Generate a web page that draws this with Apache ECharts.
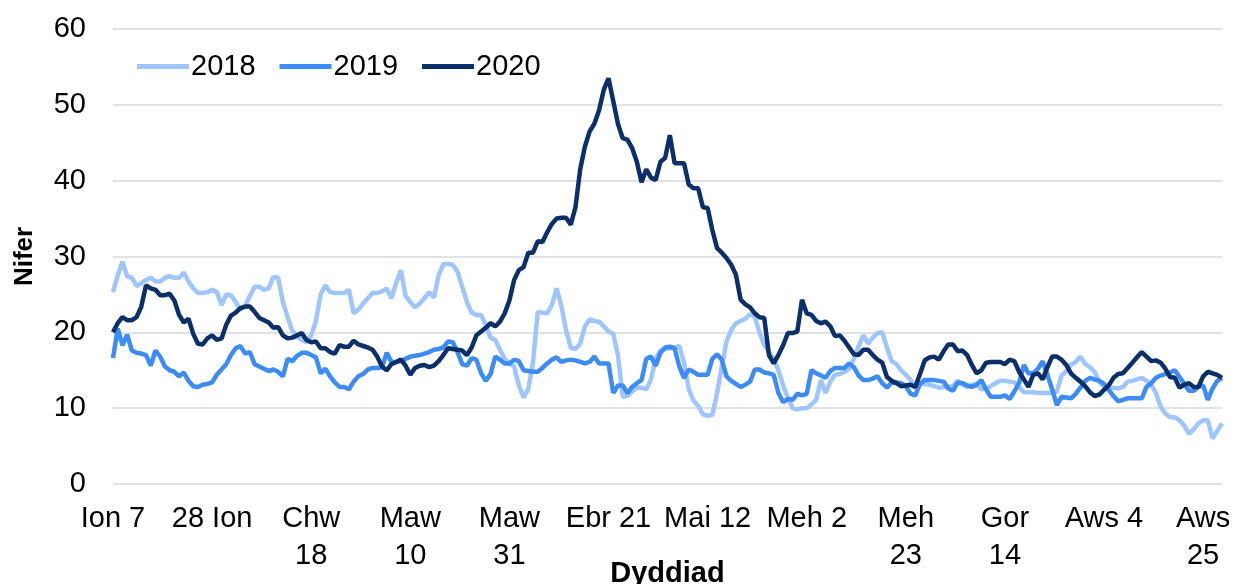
<!DOCTYPE html>
<html>
<head>
<meta charset="utf-8">
<script src="https://cdn.jsdelivr.net/npm/echarts@6/dist/echarts.min.js"></script>
<style>
  html, body { margin: 0; padding: 0; background: #fff; }
  #chart { width: 1236px; height: 584px; }
</style>
</head>
<body>
<div id="chart"></div>
<script>
// Tick labels shown every 21 days starting 7 January
var tickLabels = ['Ion 7', '28 Ion', 'Chw\n18', 'Maw\n10', 'Maw\n31', 'Ebr 21', 'Mai 12', 'Meh 2', 'Meh\n23', 'Gor\n14', 'Aws 4', 'Aws\n25'];
var seriesNames = ['2018', '2019', '2020'];
var yTicks = { min: 0, max: 60, step: 10 };

var s2018 = [
25.3,27.5,29.3,27.4,27.2,26.1,26.5,26.9,27.2,26.7,26.7,27.2,27.4,27.2,27.2,27.9,26.7,25.8,25.2,25.2,
25.3,25.6,25.3,23.6,25.0,24.9,24.0,23.0,23.5,24.8,26.0,26.0,25.6,25.8,27.3,27.2,24.0,22.0,20.2,19.5,
19.0,18.7,19.6,21.5,25.0,26.2,25.3,25.2,25.2,25.2,25.6,22.5,23.0,23.8,24.5,25.2,25.2,25.4,25.8,24.5,
26.5,28.2,24.8,24.0,23.3,23.8,24.5,25.3,24.6,27.5,29.0,29.0,28.9,28.0,26.0,24.0,22.6,22.3,22.3,21.0,
19.3,19.0,17.7,16.5,15.9,15.5,13.0,11.4,12.5,16.0,22.7,22.6,22.5,23.6,25.8,23.5,20.3,18.0,17.8,18.5,
20.8,21.7,21.5,21.4,20.8,20.1,19.8,17.0,11.5,11.6,12.2,12.7,12.7,12.5,13.8,16.5,17.6,17.8,17.9,18.0,
18.2,16.0,12.5,11.0,10.3,9.2,9.0,9.1,12.0,15.4,18.8,20.3,21.2,21.5,21.8,22.4,22.0,20.0,18.3,17.4,
16.5,15.0,13.0,11.4,10.0,9.8,10.0,10.0,10.5,11.1,13.7,12.0,13.5,14.4,14.5,14.8,15.2,16.5,18.2,19.6,
18.5,19.3,19.9,20.0,18.0,16.2,15.8,15.0,14.4,13.7,12.8,13.2,13.2,13.1,12.9,12.7,12.8,12.8,12.9,13.6,
13.1,12.8,13.1,13.2,12.5,12.6,12.9,13.3,13.6,13.6,13.5,13.4,12.8,12.1,12.1,12.1,12.0,12.0,12.0,12.0,
12.2,14.3,14.9,15.7,16.1,16.8,15.8,15.4,14.8,13.5,12.8,12.7,12.7,12.6,12.8,13.5,13.6,13.8,14.0,13.6,
13.1,12.0,10.2,9.3,8.8,8.8,8.4,7.7,6.6,7.2,8.0,8.4,8.4,6.0,7.0,8.0
];

var s2019 = [
16.6,20.5,18.3,19.7,17.6,17.3,17.2,17.0,15.6,17.6,16.8,15.5,15.0,14.8,14.2,14.7,13.6,12.9,12.8,13.1,
13.2,13.4,14.4,15.1,15.8,17.0,17.9,18.2,17.2,17.4,15.8,15.5,15.2,14.9,15.1,14.8,14.2,16.5,16.2,16.9,
17.3,17.3,17.0,16.7,14.6,15.2,14.2,13.4,12.8,12.8,12.5,13.5,14.2,14.5,15.1,15.3,15.3,15.4,17.3,16.1,
16.1,16.2,16.5,16.8,16.9,17.0,17.2,17.4,17.7,17.8,18.0,18.8,18.7,17.4,15.8,15.6,16.6,16.4,14.6,13.6,
14.5,16.8,16.4,15.9,15.9,16.4,16.2,15.0,14.9,14.8,14.8,15.3,15.9,16.4,16.7,16.1,16.3,16.4,16.3,16.1,
15.9,16.1,16.8,15.9,15.9,15.9,12.0,13.0,13.0,12.0,12.8,13.3,13.7,16.5,16.8,15.6,17.3,18.0,18.1,17.9,
15.5,14.0,15.1,14.8,14.4,14.4,14.4,16.5,17.1,16.4,14.2,13.6,13.2,12.8,13.1,13.5,15.1,15.1,14.7,14.6,
14.4,12.0,10.8,11.2,11.1,11.9,11.7,11.9,15.0,14.6,14.3,14.0,14.9,15.3,15.3,15.3,15.9,15.4,14.3,13.7,
13.7,13.9,14.2,13.3,12.7,13.4,13.4,13.3,12.9,11.9,11.7,13.2,13.7,13.7,13.7,13.6,13.5,12.6,12.3,13.4,
13.3,13.0,12.8,13.1,13.7,12.5,11.5,11.5,11.5,11.7,11.2,12.2,13.3,15.7,14.6,14.6,15.2,16.2,14.4,12.5,
10.4,11.5,11.4,11.3,11.9,12.7,13.6,14.0,13.8,13.6,13.2,12.4,11.6,10.9,11.1,11.3,11.3,11.3,11.3,12.8,
13.3,14.0,14.3,14.5,14.7,15.0,14.1,13.2,12.3,12.3,12.8,13.0,11.1,12.6,13.6,14.0
];

var s2020 = [
20.0,21.2,22.0,21.6,21.6,22.0,23.4,26.2,25.8,25.6,24.9,24.9,25.1,24.2,22.3,21.3,21.8,19.8,18.5,18.4,
19.2,19.6,19.0,19.2,21.0,22.2,22.6,23.2,23.4,23.4,22.7,21.9,21.6,21.3,20.6,20.7,19.6,19.2,19.3,19.6,
19.9,19.0,18.7,18.8,17.9,17.9,17.4,17.2,18.3,18.1,18.1,18.9,18.4,18.2,18.0,17.7,16.8,15.5,15.0,15.8,
16.1,16.4,15.6,14.4,15.3,15.6,15.7,15.4,15.6,16.2,17.0,17.9,17.8,17.7,17.6,17.0,18.0,19.6,20.1,20.6,
21.2,20.8,21.4,22.5,24.2,26.9,28.2,28.6,30.5,30.5,32.0,31.9,33.2,34.3,35.0,35.1,35.1,34.2,36.5,41.5,
44.5,46.5,47.5,49.3,52.0,53.5,50.5,47.5,45.6,45.4,44.3,42.5,39.8,41.5,40.4,40.1,42.5,43.0,46.0,42.3,
42.3,42.3,39.5,39.0,39.0,36.5,36.4,33.5,31.1,30.5,29.8,28.9,27.6,24.3,23.7,23.3,22.5,22.0,21.9,17.0,
15.9,17.0,18.3,19.9,19.9,20.1,24.3,22.5,22.3,21.5,21.2,21.4,20.8,19.5,19.6,18.9,18.0,17.1,17.0,17.7,
17.7,17.0,16.4,16.0,14.1,13.6,13.3,12.9,13.0,13.1,12.8,14.5,16.3,16.7,16.8,16.4,17.5,18.4,18.4,17.5,
17.6,17.0,15.7,14.6,15.0,16.0,16.1,16.1,16.1,15.8,16.4,16.2,14.8,13.8,12.8,14.4,14.6,13.8,15.4,16.8,
16.8,16.4,15.7,14.6,14.0,13.5,12.9,12.1,11.6,11.8,12.4,13.0,14.0,14.5,14.6,15.3,16.0,16.7,17.4,16.8,
16.2,16.3,16.0,15.2,14.1,14.0,12.7,13.1,13.3,12.8,12.8,14.2,14.8,14.6,14.4,14.0
];

// category axis: one entry per day from 7 January
var startDate = new Date(Date.UTC(2020, 0, 7));
var categories = s2020.map(function (_, i) {
  var d = new Date(startDate.getTime() + i * 86400000);
  return d.toISOString().slice(0, 10);
});

var colors = ['#9fc5ff', '#3d8cf5', '#0b2f6a'];
var font = "'Liberation Sans', Arial, sans-serif";

var chart = echarts.init(document.getElementById('chart'), null, { renderer: 'canvas' });
chart.setOption({
  animation: false,
  color: colors,
  textStyle: { fontFamily: font },
  grid: { left: 113, right: 14, top: 29, bottom: 100, containLabel: false, outerBoundsMode: 'none' },
  legend: {
    data: seriesNames,
    left: 132,
    top: 47,
    icon: 'rect',
    itemWidth: 52,
    itemHeight: 5,
    itemGap: 24,
    textStyle: { fontSize: 29, color: '#000', fontFamily: font, padding: [0, 0, 0, -3] }
  },
  xAxis: {
    type: 'category',
    data: categories,
    boundaryGap: false,
    name: 'Dyddiad',
    nameLocation: 'middle',
    nameGap: 75,
    nameMoveOverlap: false,
    nameTextStyle: { fontSize: 29, fontWeight: 'bold', color: '#000', fontFamily: font },
    axisLine: { show: false },
    axisTick: { show: false },
    splitLine: { show: false },
    axisLabel: {
      interval: 20,
      fontSize: 29,
      lineHeight: 37,
      color: '#000',
      margin: 16,
      fontFamily: font,
      formatter: function (v, idx) { return tickLabels[Math.round(idx / 21)] || ''; }
    }
  },
  yAxis: {
    type: 'value',
    min: yTicks.min,
    max: yTicks.max,
    interval: yTicks.step,
    name: 'Nifer',
    nameLocation: 'middle',
    nameGap: 75,
    nameMoveOverlap: false,
    nameTextStyle: { fontSize: 26, fontWeight: 'bold', color: '#000', fontFamily: font },
    axisLine: { show: false },
    axisTick: { show: false },
    axisLabel: { fontSize: 29, color: '#000', margin: 27, fontFamily: font },
    splitLine: { lineStyle: { color: '#d9d9d9', width: 1.5 } }
  },
  series: [
    { name: seriesNames[0], type: 'line', data: s2018, showSymbol: false, symbol: 'none', lineStyle: { width: 4.5, color: colors[0] }, z: 2 },
    { name: seriesNames[1], type: 'line', data: s2019, showSymbol: false, symbol: 'none', lineStyle: { width: 4.5, color: colors[1] }, z: 3 },
    { name: seriesNames[2], type: 'line', data: s2020, showSymbol: false, symbol: 'none', lineStyle: { width: 4.5, color: colors[2] }, z: 4 }
  ]
});
</script>
</body>
</html>
